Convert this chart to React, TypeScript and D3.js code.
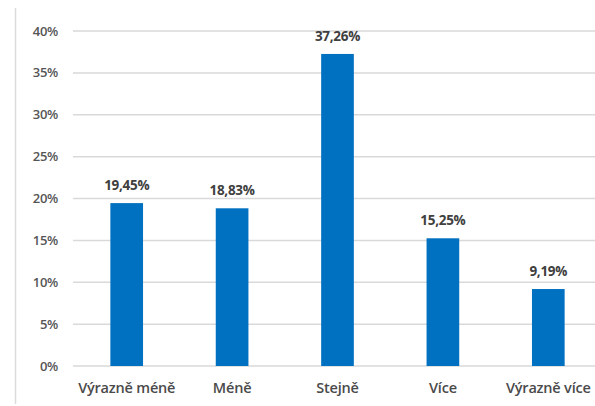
import React from "react";
import * as d3 from "d3";

const categories = ["Výrazně méně", "Méně", "Stejně", "Více", "Výrazně více"];
const values = [19.45, 18.83, 37.26, 15.25, 9.19];
const yTicks = [0, 5, 10, 15, 20, 25, 30, 35, 40];

const W = 595;
const H = 406;

export default function App() {
  const x = d3.scaleBand<string>().domain(categories).range([74, 601]).paddingInner(0.69).paddingOuter(0.345);
  const y = d3.scaleLinear().domain([0, 40]).range([366, 31]);
  const font = "'Open Sans', 'Liberation Sans', sans-serif";
  return (
    <svg width={W} height={H} style={{ position: "absolute", left: 0, top: 0, background: "#fff" }}>
      <rect x={0} y={0} width={W} height={H} fill="#fff" />
      <line x1={15.5} x2={15.5} y1={8} y2={404} stroke="#dcdcdc" strokeWidth={1.5} />
      {yTicks.map((t) => (
        <g key={t}>
          <line x1={73} x2={W} y1={y(t)} y2={y(t)} stroke="#d9d9d9" strokeWidth={1.5} />
          <text x={58} y={y(t)} dy="0.35em" textAnchor="end" fontFamily={font} fontSize={13} fontWeight={600} fill="#555" letterSpacing={-0.3}>
            {t}%
          </text>
        </g>
      ))}
      {categories.map((c, i) => (
        <g key={c}>
          <rect x={x(c)} y={y(values[i])} width={x.bandwidth()} height={y(0) - y(values[i])} fill="#0070C0" />
          <text x={(x(c) as number) + x.bandwidth() / 2} y={y(values[i]) - 13} textAnchor="middle" fontFamily={font} fontSize={13.5} fontWeight="bold" fill="#404040" letterSpacing={-0.3}>
            {values[i].toFixed(2).replace(".", ",")}%
          </text>
          <text x={(x(c) as number) + x.bandwidth() / 2} y={393} textAnchor="middle" fontFamily={font} fontSize={14.5} fontWeight={600} fill="#4a4a4a" letterSpacing={-0.2}>
            {c}
          </text>
        </g>
      ))}
    </svg>
  );
}
